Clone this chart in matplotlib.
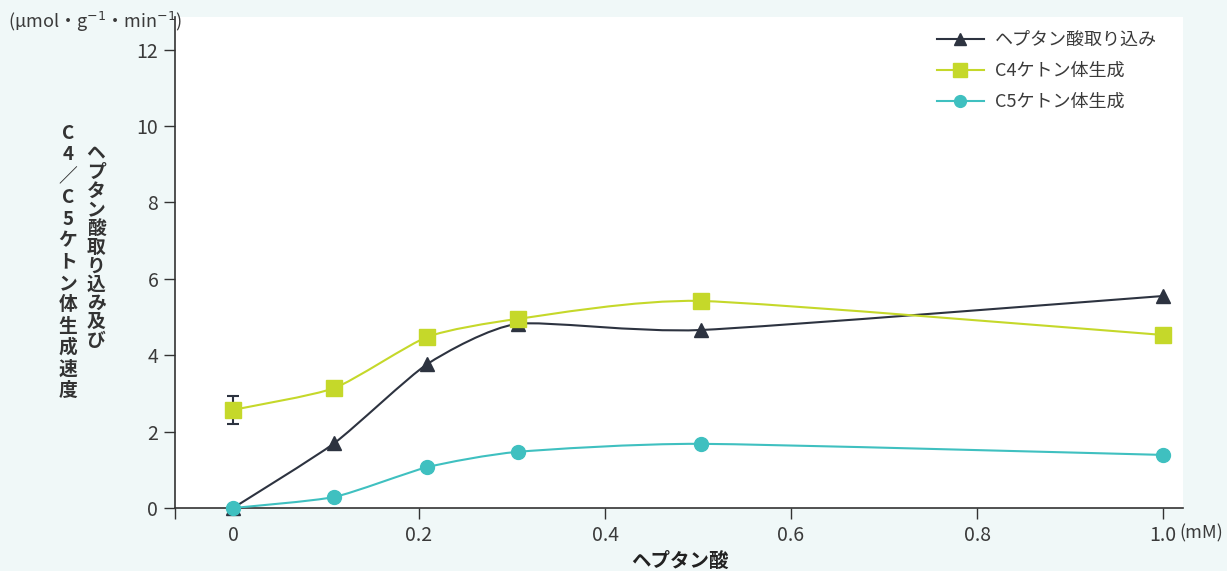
import matplotlib
matplotlib.use("Agg")
import matplotlib.pyplot as plt
from matplotlib.path import Path
from matplotlib.patches import PathPatch
from matplotlib.lines import Line2D
import numpy as np

plt.rcParams['font.family'] = ['Noto Sans CJK JP', 'DejaVu Sans']

# data
conc = [0, 0.109, 0.209, 0.306, 0.503, 1.0]
heptanoic = [0, 1.70, 3.77, 4.82, 4.66, 5.55]
c4_ketone = [2.57, 3.14, 4.48, 4.95, 5.42, 4.53]
c5_ketone = [0, 0.29, 1.07, 1.47, 1.68, 1.39]
c4_err0 = 0.37
names = ['ヘプタン酸取り込み', 'C4ケトン体生成', 'C5ケトン体生成']
colors = ['#2d3340', '#c5d82a', '#3fc0c0']
markers = ['^', 's', 'o']
xticks = [0.2, 0.4, 0.6, 0.8, 1.0]
yticks = [0, 2, 4, 6, 8, 10, 12]

bg = '#f0f8f8'
txt = '#3a3a3a'


def smooth_path(x, y, k=0.1):
    # bezier through the data points, tangents from neighbours
    x = np.asarray(x, float)
    y = np.asarray(y, float)
    px = np.concatenate([[x[0]], x, [x[-1]]])
    py = np.concatenate([[y[0]], y, [y[-1]]])
    verts = [(x[0], y[0])]
    codes = [Path.MOVETO]
    for i in range(1, len(px) - 2):
        c1 = (px[i] + (px[i + 1] - px[i - 1]) * k, py[i] + (py[i + 1] - py[i - 1]) * k)
        c2 = (px[i + 1] - (px[i + 2] - px[i]) * k, py[i + 1] - (py[i + 2] - py[i]) * k)
        verts += [c1, c2, (px[i + 1], py[i + 1])]
        codes += [Path.CURVE4] * 3
    return Path(verts, codes)


fig = plt.figure(figsize=(12.27, 5.71), dpi=100, facecolor=bg)
ax = fig.add_axes([0.1426, 0.1103, 0.8216, 0.8597])
ax.set_facecolor('white')

xmin, xmax = -0.0624, 1.0215
ax.set_xlim(xmin, xmax)
ax.set_ylim(0, 12.85)

series = [heptanoic, c4_ketone, c5_ketone]
msize = [10, 11, 10]
handles = []
for vals, c, m, ms in zip(series, colors, markers, msize):
    ax.add_patch(PathPatch(smooth_path(conc, vals), facecolor='none',
                           edgecolor=c, lw=1.5, zorder=3))
    ax.plot(conc, vals, ls='none', marker=m, ms=ms, color=c, zorder=4,
            clip_on=False)
    handles.append(Line2D([], [], color=c, lw=1.5, marker=m, ms=ms - 1.5))

ax.errorbar([conc[0]], [c4_ketone[0]], yerr=[c4_err0], fmt='none',
            ecolor='#2d3340', elinewidth=1.5, capsize=4, capthick=1.5, zorder=2)

for s in ['top', 'right']:
    ax.spines[s].set_visible(False)
for s in ['left', 'bottom']:
    ax.spines[s].set_color('#333333')
    ax.spines[s].set_linewidth(1.2)

ax.set_yticks(yticks)
ax.set_xticks([xmin] + xticks)
ax.set_xticklabels([''] + ['%.1f' % t for t in xticks])
ax.set_xticks([0], minor=True)
ax.set_xticklabels(['0'], minor=True)
ax.tick_params(axis='both', which='major', direction='out', length=8,
               width=1, color='#333333', labelsize=14, labelcolor=txt, pad=4)
ax.tick_params(axis='x', which='minor', length=0, labelsize=14,
               labelcolor=txt, pad=12)

ax.annotate('(mM)', xy=(1.0, 0), xycoords=('data', 'axes fraction'),
            xytext=(12, -12), textcoords='offset points',
            ha='left', va='top', fontsize=13, color=txt)

fig.text(8 / 1227, 1 - 22 / 571, '(µmol・g$^{-1}$・min$^{-1}$)', ha='left',
         va='center', fontsize=13, color=txt)

col1 = 'ヘプタン酸取り込み及び'
col2 = 'C4／C5ケトン体生成速度'
fig.text(96 / 1227, 1 - 247 / 571, '\n'.join(col1), ha='center', va='center',
         fontsize=13.5, fontweight='bold', color='#333333', linespacing=0.98)
fig.text(68 / 1227, 1 - 262 / 571, '\n'.join(col2), ha='center', va='center',
         fontsize=13.5, fontweight='bold', color='#333333', linespacing=1.16)

fig.text(680 / 1227, 1 - 561 / 571, 'ヘプタン酸', ha='center', va='center',
         fontsize=14, fontweight='bold', color='#222222')

leg = ax.legend(handles, names, loc='upper right', bbox_to_anchor=(0.99, 1.005),
                frameon=False, fontsize=13, handlelength=2.6,
                labelspacing=0.72, handletextpad=0.6)
for t in leg.get_texts():
    t.set_color(txt)

fig.savefig('out.png', dpi=100, facecolor=bg)
